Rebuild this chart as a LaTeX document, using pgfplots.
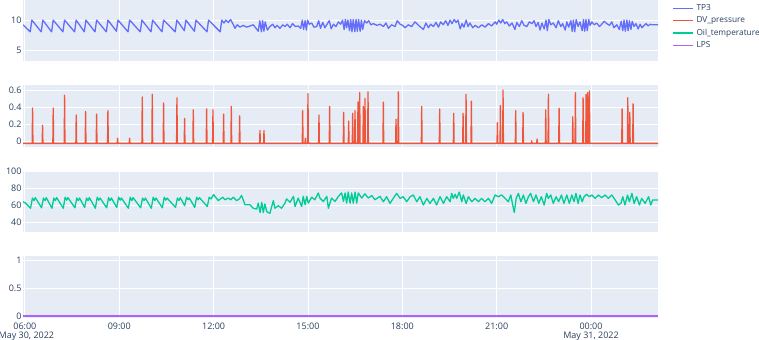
\documentclass[border=0pt]{standalone}
\usepackage{fontspec}
\setmainfont{Open Sans}
\usepackage{pgfplots}
\pgfplotsset{compat=1.18}
\definecolor{bg}{HTML}{E5ECF6}
\definecolor{fontc}{HTML}{2A3F5F}
\definecolor{c1}{HTML}{636EFA}
\definecolor{c2}{HTML}{EF553B}
\definecolor{c3}{HTML}{00CC96}
\definecolor{c4}{HTML}{AB63FA}
\pgfplotsset{
  sub/.style={
    scale only axis, width=635bp, height=61.5bp,
    xmin=5.94, xmax=26.13,
    axis background/.style={fill=bg},
    axis line style={draw=none},
    major tick length=0pt,
    grid=major, grid style={white, line width=0.8bp},
    xtick={6,9,12,15,18,21,24},
    xticklabels={,,,,,,,},
    tick label style={font=\fontsize{9bp}{9.5bp}\selectfont, text=fontc},
    yticklabel style={inner sep=0pt, xshift=-1.3bp},
    xticklabel style={inner sep=0pt, yshift=-4.8bp, align=center},
    /pgf/number format/assume math mode=true,
    anchor=south west,
    every axis plot/.append style={line width=1.3bp, line join=round},
  },
}
\begin{document}
\begin{tikzpicture}
\useasboundingbox (0bp,0bp) rectangle (759bp,340bp);
% TP3
\begin{axis}[sub, at={(23bp,278.5bp)}, ymin=3.04, ymax=13.53, ytick={5,10},
  legend style={at={(1,1)}, anchor=north west, draw=none, fill=none, inner sep=0pt,
    xshift=14.5bp, yshift=-4bp, font=\fontsize{8.3bp}{10bp}\selectfont, text=fontc,
    column sep=2.5bp, row sep=3.8bp, nodes={inner sep=0pt, text height=6.5bp, text depth=2bp}},
  legend cell align=left,
  legend image code/.code={\draw[#1, line width=1.3bp] (0bp,0bp) -- (20bp,0bp);},
]
\addplot[c1] coordinates {(5.94,9.3)(6.17,8.1)(6.22,10.1)(6.52,8.1)(6.57,10.1)(6.85,8.1)(6.90,10.1)(7.21,8.1)(7.26,10.1)(7.58,8.1)(7.63,10.1)(7.89,8.1)(7.94,10.1)(8.23,8.1)(8.28,10.1)(8.59,8.1)(8.64,10.1)(8.91,8.2)(8.96,10.1)(9.28,8.1)(9.33,10.1)(9.67,8.1)(9.72,10.1)(10.01,8.1)(10.06,10.1)(10.36,8.1)(10.41,10.1)(10.78,8.1)(10.83,10.1)(11.07,8.3)(11.12,10.1)(11.39,8.2)(11.44,10.1)(11.79,8.1)(11.84,10.1)(12.21,8.1)(12.26,10.1)
(12.33,9.6)(12.39,10.1)(12.47,9.7)(12.54,10.2)(12.63,9.3)(12.68,8.7)(12.75,9.3)(12.84,8.9)(12.94,9.2)(13.05,8.9)(13.16,9.1)(13.26,9.3)(13.35,8.7)(13.42,8.2)(13.47,10.0)(13.52,8.1)(13.56,10.0)(13.60,8.2)(13.64,9.8)(13.71,8.4)(13.79,9.0)(13.88,9.4)(13.95,8.8)(14.02,9.2)(14.11,8.7)(14.20,9.3)(14.27,9.0)(14.34,9.4)(14.43,8.8)(14.51,9.5)(14.60,9.0)(14.69,9.1)(14.77,8.7)(14.82,10.1)(14.86,8.5)(14.91,10.0)(14.95,8.4)(14.99,10.1)(15.04,9.4)(15.12,9.6)(15.19,8.9)(15.28,9.0)(15.34,10.0)(15.40,8.7)(15.47,9.7)(15.54,8.8)(15.62,9.5)(15.68,10.0)(15.74,8.6)(15.81,9.4)(15.89,9.0)(15.97,9.8)(16.04,9.4)(16.10,10.1)(16.15,8.5)(16.19,10.2)(16.23,8.8)(16.27,10.1)(16.32,8.3)(16.36,10.2)(16.40,8.1)(16.44,10.2)(16.49,8.1)(16.53,10.2)(16.57,8.2)(16.61,10.2)(16.66,8.2)(16.70,10.1)(16.74,8.5)(16.80,10.0)(16.87,9.6)(16.93,10.0)(17.00,9.3)(17.08,9.5)(17.19,9.2)(17.29,9.4)
(17.40,9.0)(17.48,9.6)(17.56,8.7)(17.66,9.3)(17.77,9.0)(17.84,10.0)(17.93,9.4)(18.01,9.2)(18.09,8.8)(18.19,9.3)(18.30,9.0)(18.40,9.8)(18.48,9.4)(18.56,9.0)(18.67,8.5)(18.75,9.6)(18.83,8.8)(18.90,9.4)(18.99,9.0)(19.07,9.7)(19.15,8.9)(19.22,9.8)(19.30,9.3)(19.38,10.0)(19.45,9.2)(19.52,10.1)(19.58,9.5)(19.65,10.2)(19.71,9.7)(19.77,10.1)(19.84,8.6)(19.90,9.5)(19.96,8.9)(20.03,10.1)(20.09,9.0)(20.15,9.6)(20.24,8.8)(20.32,9.2)(20.42,8.8)(20.53,9.3)(20.63,8.9)(20.74,9.5)(20.84,9.1)(20.95,9.8)(21.00,9.4)(21.07,10.1)(21.13,9.6)(21.19,10.2)(21.26,9.5)(21.32,9.8)(21.40,9.1)(21.49,9.6)(21.58,8.5)(21.64,9.7)(21.72,9.0)(21.80,10.0)(21.87,9.2)(21.96,9.0)(22.04,9.8)(22.12,9.5)(22.19,10.0)(22.25,9.0)(22.32,9.7)(22.38,8.4)(22.44,9.6)(22.51,8.6)(22.57,10.1)(22.61,8.3)(22.66,10.2)(22.72,9.3)(22.80,9.6)(22.89,8.8)(22.96,10.0)(23.04,9.0)(23.10,9.5)(23.18,8.4)(23.23,9.8)(23.29,8.9)(23.36,10.0)(23.40,8.2)(23.44,10.1)(23.48,8.1)(23.53,10.2)(23.59,9.0)(23.65,9.8)(23.72,8.3)(23.76,10.2)(23.80,8.2)(23.84,10.2)(23.88,8.3)(23.93,10.2)(23.97,9.2)(24.03,9.8)(24.10,9.3)(24.18,9.6)(24.27,9.0)(24.34,9.4)(24.42,9.9)(24.50,9.5)(24.59,9.2)(24.66,9.8)(24.73,8.8)(24.82,9.3)(24.90,8.5)(24.96,9.9)(25.01,8.3)(25.05,10.1)(25.09,8.2)(25.14,10.1)(25.18,8.3)(25.22,10.0)(25.27,8.5)(25.31,9.9)(25.37,9.0)(25.43,9.5)(25.50,8.6)(25.56,9.4)(25.62,8.8)(25.69,9.2)(25.75,9.5)(25.82,9.1)(25.88,9.4)(25.94,9.3)(26.03,9.3)(26.13,9.3)};
\addlegendentry{TP3}
\addlegendimage{c2}\addlegendentry{DV\_pressure}
\addlegendimage{c3}\addlegendentry{Oil\_temperature}
\addlegendimage{c4}\addlegendentry{LPS}
\end{axis}
% DV_pressure
\begin{axis}[sub, at={(23bp,193.2bp)}, ymin=-0.06, ymax=0.655, ytick={0,0.2,0.4,0.6}]
\addplot[c2] coordinates {(5.94,-0.02)
(6.232,-0.02)(6.244,.39)(6.256,-0.02)(6.550,-0.02)(6.562,.19)(6.574,-0.02)(6.889,-0.02)(6.901,.39)(6.913,-0.02)
(7.250,-0.02)(7.262,.54)(7.274,-0.02)(7.621,-0.02)(7.633,.31)(7.645,-0.02)(7.918,-0.02)(7.930,.35)(7.942,-0.02)
(8.268,-0.02)(8.280,.32)(8.292,-0.02)(8.628,-0.02)(8.640,.36)(8.652,-0.02)(8.935,-0.02)(8.947,.04)(8.959,-0.02)
(9.317,-0.02)(9.329,.04)(9.341,-0.02)(9.720,-0.02)(9.732,.52)(9.744,-0.02)(10.038,-0.02)(10.050,.55)(10.062,-0.02)
(10.398,-0.02)(10.410,.45)(10.422,-0.02)(10.823,-0.02)(10.835,.51)(10.847,-0.02)(11.066,-0.02)(11.078,.27)(11.090,-0.02)
(11.342,-0.02)(11.354,.37)(11.366,-0.02)(11.766,-0.02)(11.778,.38)(11.790,-0.02)(11.968,-0.02)(11.980,.37)(11.992,-0.02)
(12.307,-0.02)(12.319,.32)(12.331,-0.02)(12.551,-0.02)(12.563,.41)(12.575,-0.02)(12.816,-0.02)(12.828,.30)(12.840,-0.02)
(13.463,-0.02)(13.475,.13)(13.487,-0.02)(13.590,-0.02)(13.602,.13)(13.614,-0.02)(14.820,-0.02)(14.832,.36)(14.844,-0.02)
(14.904,-0.02)(14.916,.04)(14.928,-0.02)(14.989,-0.02)(15.001,.56)(15.013,-0.02)(15.339,-0.02)(15.351,.31)(15.363,-0.02)
(15.678,-0.02)(15.690,.41)(15.702,-0.02)(16.124,-0.02)(16.136,.34)(16.148,-0.02)(16.283,-0.02)(16.295,.24)(16.307,-0.02)
(16.410,-0.02)(16.422,.33)(16.434,-0.02)(16.484,-0.02)(16.496,.36)(16.508,-0.02)(16.579,-0.02)(16.591,.46)(16.603,-0.02)
(16.633,-0.02)(16.645,.57)(16.657,-0.02)(16.749,-0.02)(16.761,.41)(16.773,-0.02)(16.802,-0.02)(16.814,.50)(16.826,-0.02)
(16.898,-0.02)(16.910,.58)(16.922,-0.02)(17.385,-0.02)(17.397,.46)(17.409,-0.02)(17.788,-0.02)(17.800,.26)(17.812,-0.02)
(17.862,-0.02)(17.874,.58)(17.886,-0.02)(18.605,-0.02)(18.617,.41)(18.629,-0.02)(19.177,-0.02)(19.189,.38)(19.201,-0.02)
(19.623,-0.02)(19.635,.33)(19.647,-0.02)(19.920,-0.02)(19.932,.33)(19.944,-0.02)(20.015,-0.02)(20.027,.55)(20.039,-0.02)
(20.184,-0.02)(20.196,.47)(20.208,-0.02)(21.011,-0.02)(21.023,.22)(21.035,-0.02)(21.107,-0.02)(21.119,.42)(21.131,-0.02)
(21.191,-0.02)(21.203,.60)(21.215,-0.02)(21.594,-0.02)(21.606,.36)(21.618,-0.02)(21.828,-0.02)(21.840,.34)(21.852,-0.02)
(22.103,-0.02)(22.115,.01)(22.127,-0.02)(22.273,-0.02)(22.285,.03)(22.297,-0.02)(22.549,-0.02)(22.561,.37)(22.573,-0.02)
(22.634,-0.02)(22.646,.55)(22.658,-0.02)(22.973,-0.02)(22.985,.39)(22.997,-0.02)(23.408,-0.02)(23.420,.29)(23.432,-0.02)
(23.492,-0.02)(23.504,.57)(23.516,-0.02)(23.736,-0.02)(23.748,.51)(23.760,-0.02)(23.832,-0.02)(23.844,.55)(23.856,-0.02)
(23.885,-0.02)(23.897,.57)(23.909,-0.02)(23.938,-0.02)(23.950,.59)(23.962,-0.02)(24.977,-0.02)(24.989,.38)(25.001,-0.02)
(25.157,-0.02)(25.169,.51)(25.181,-0.02)(25.221,-0.02)(25.233,.34)(25.245,-0.02)(25.326,-0.02)(25.338,.44)(25.350,-0.02)
(26.13,-0.02)};
\end{axis}
% Oil temperature
\begin{axis}[sub, at={(23bp,107.8bp)}, ymin=28.8, ymax=101.2, ytick={40,60,80,100}]
\addplot[c3] coordinates {(5.94,64.7)(6.02,63)(6.18,57)(6.24,69)(6.29,66)(6.33,69.5)
(6.53,57.5)(6.59,69)(6.64,66)(6.68,69.5)(6.86,57)(6.92,69)(6.97,66)(7.01,69.5)
(7.22,57)(7.28,70)(7.33,66.5)(7.37,69.5)(7.59,57.5)(7.65,69)(7.70,66)(7.74,69)
(7.90,58)(7.96,69)(8.01,66)(8.05,69.5)(8.24,57)(8.30,70)(8.35,66.5)(8.39,69)
(8.60,57.5)(8.66,69.5)(8.71,66)(8.75,69)(8.92,58)(8.98,70)(9.03,66.5)(9.07,69)
(9.29,57)(9.35,70)(9.40,66)(9.44,69.5)(9.68,57.5)(9.74,69)(9.79,66)(9.83,69)
(10.02,57)(10.08,70)(10.13,66)(10.17,69)(10.37,57.5)(10.43,70)(10.48,66.5)(10.52,69)
(10.79,58)(10.85,69)(10.90,66)(10.94,69.5)(11.08,60)(11.14,70)(11.19,67)(11.23,69)
(11.40,58)(11.46,70)(11.51,67)(11.55,69.5)(11.80,59)(11.86,70)(11.92,68)(12.00,73)
(12.15,66)(12.29,70)(12.36,67)(12.47,69)(12.54,67)(12.63,70)(12.73,66)(12.82,68)(12.89,72)
(13.00,61)(13.16,61)(13.26,57)(13.37,56)(13.42,63)(13.48,52)(13.53,64)(13.58,52)(13.63,62)(13.69,53)
(13.79,51)(13.90,66)(13.95,57)(14.06,60)(14.16,57)(14.27,63)(14.32,68)(14.43,64)(14.54,71)(14.59,59)
(14.69,69)(14.80,59)(14.85,71)(14.91,61)(14.96,71)(15.01,63)(15.12,70)(15.22,67)(15.33,75)(15.38,69)
(15.49,65)(15.60,71)(15.65,57)(15.75,69)(15.86,65)(15.97,71)(16.07,75)(16.13,65)(16.18,75)(16.23,63)
(16.28,76)(16.34,63)(16.39,75)(16.44,63)(16.50,76)(16.55,63)(16.60,75)(16.71,69)(16.81,74)(16.92,69)
(17.03,72)(17.13,67)(17.29,71)
(17.40,64.7)(17.50,70.6)(17.61,62.7)(17.71,68.6)(17.82,74.5)(17.93,68.6)(18.03,70.6)(18.14,64.7)(18.25,70.6)(18.35,72.6)
(18.46,64.7)(18.56,70.6)(18.67,60.8)(18.78,68.6)(18.88,62.7)(18.99,68.6)(19.09,60.8)(19.20,70.6)(19.31,62.7)(19.41,70.6)
(19.52,64.7)(19.57,74.5)(19.62,68.6)(19.68,73.4)(19.73,68.6)(19.81,76)(19.89,64.7)(19.94,72.6)(20.03,62.7)(20.10,70.6)
(20.21,64.7)(20.31,68.6)(20.42,64.7)(20.52,68.6)(20.63,64.7)(20.74,68.6)(20.84,62.7)(20.95,72.6)(21.05,70.6)(21.16,72.6)
(21.27,68.6)(21.37,64.7)(21.45,72.6)(21.51,60.8)(21.56,52)(21.62,68.6)(21.69,74.5)(21.77,64.7)(21.85,72.6)(21.93,62.7)
(22.01,70.6)(22.08,74.5)(22.17,64.7)(22.25,72.6)(22.34,62.7)(22.42,70.6)(22.51,60.8)(22.59,74.5)(22.64,68.6)(22.72,72.6)
(22.80,62.7)(22.89,70.6)(22.97,64.7)(23.06,72.6)(23.14,62.7)(23.23,72.6)(23.31,62.7)(23.39,72.6)(23.46,64.7)(23.52,74.5)
(23.59,62.7)(23.65,72.6)(23.72,64.7)(23.78,70.6)(23.86,73.4)(23.95,70.6)(24.03,72.6)(24.13,68.6)(24.235,72.6)(24.34,69.5)
(24.45,72.6)(24.55,68.6)(24.66,72.6)(24.77,66.7)(24.87,60.8)(24.95,62.7)(25.01,70.6)(25.08,60.8)(25.16,72.6)(25.22,64.7)
(25.30,74.5)(25.37,62.7)(25.45,70.6)(25.54,60.8)(25.61,68.6)(25.72,62.7)(25.83,70.6)(25.90,60.8)(25.96,66.7)(26.09,66.7)(26.13,66.7)};
\end{axis}
% LPS
\begin{axis}[sub, at={(23bp,22.5bp)}, ymin=-0.027, ymax=1.085, ytick={0,0.5,1},
  xticklabels={{06:00\\\hspace*{3bp}May 30, 2022},09:00,12:00,15:00,18:00,21:00,{00:00\\May 31, 2022}}]
\addplot[c4] coordinates {(5.94,0)(26.13,0)};
\end{axis}
\end{tikzpicture}
\end{document}
